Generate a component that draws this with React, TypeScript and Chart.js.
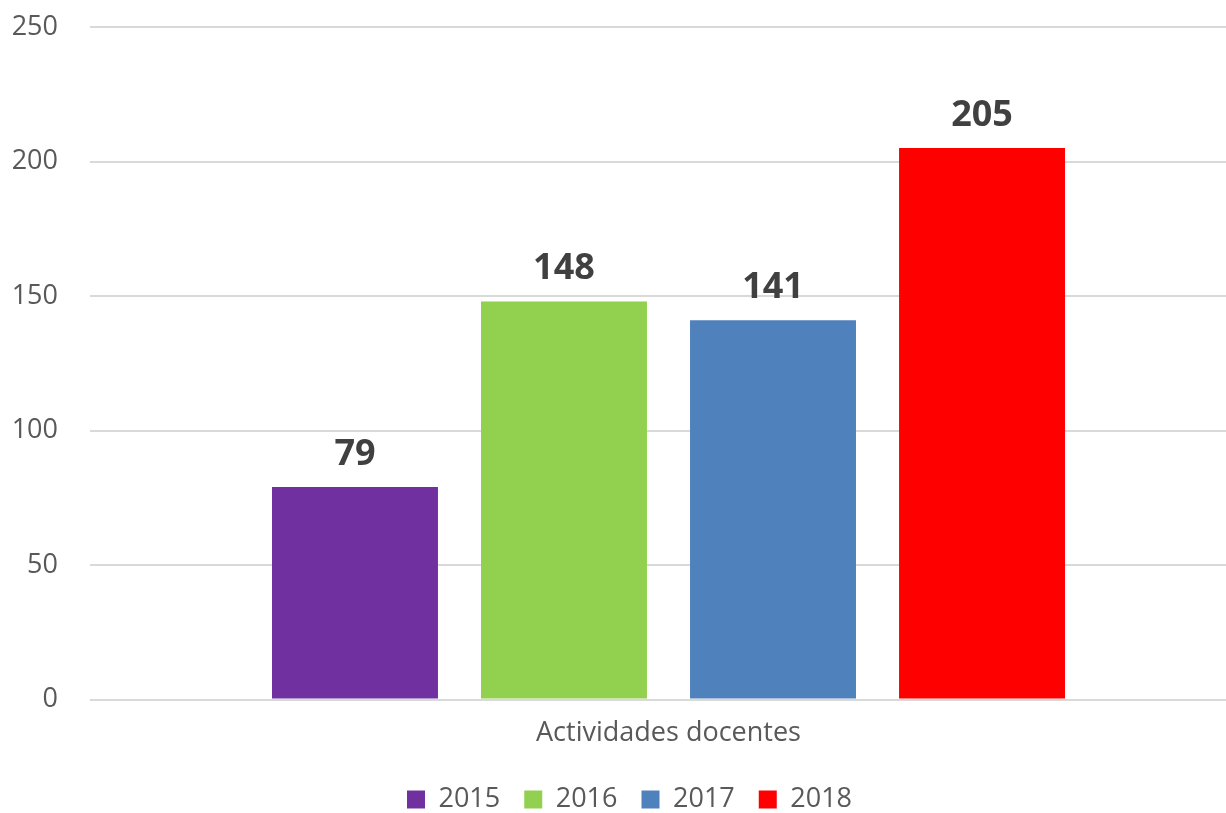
import React, { useEffect, useRef } from "react";
import { Chart, registerables } from "chart.js";

Chart.register(...registerables);

const categories = ["Actividades docentes"];
const seriesLabels = ["2015", "2016", "2017", "2018"];
const seriesValues = [[79], [148], [141], [205]];
const seriesColors = ["#7030A0", "#92D050", "#4F81BD", "#FF0000"];
const yTicks = [0, 50, 100, 150, 200, 250];

const FONT = "'Open Sans', 'Noto Sans', sans-serif";
const TEXT = "#595959";

const dataLabelPlugin = {
  id: "dataLabels",
  afterDatasetsDraw(chart: any) {
    const ctx = chart.ctx;
    ctx.save();
    ctx.font = `bold 36px ${FONT}`;
    ctx.fillStyle = "#404040";
    ctx.textAlign = "center";
    ctx.textBaseline = "alphabetic";
    chart.data.datasets.forEach((ds: any, i: number) => {
      const meta = chart.getDatasetMeta(i);
      meta.data.forEach((bar: any, j: number) => {
        ctx.fillText(String(ds.data[j]), bar.x, bar.y - 22);
      });
    });
    ctx.restore();
  },
};

export default function App() {
  const ref = useRef<HTMLCanvasElement | null>(null);
  useEffect(() => {
    document.body.style.margin = "0";
    const chart = new Chart(ref.current as HTMLCanvasElement, {
      type: "bar",
      data: {
        labels: categories,
        datasets: seriesLabels.map((l, i) => ({
          label: l,
          data: seriesValues[i],
          backgroundColor: seriesColors[i],
          borderWidth: 0,
          categoryPercentage: 0.7226,
          barPercentage: 0.794,
        })),
      },
      options: {
        responsive: false,
        animation: false,
        layout: { padding: { left: 12, top: 27, right: 0, bottom: -10 } },
        plugins: {
          tooltip: { enabled: false },
          legend: {
            position: "bottom",
            labels: {
              boxWidth: 18,
              boxHeight: 18,
              padding: 24,
              color: TEXT,
              font: { family: FONT, size: 27 },
            },
          },
        },
        scales: {
          x: {
            grid: { display: false },
            border: { display: false },
            ticks: { color: TEXT, font: { family: FONT, size: 27 }, padding: 10 },
            afterFit(scale: any) {
              scale.height += 2;
              scale.paddingLeft = 0;
              scale.paddingRight = 0;
            },
          },
          y: {
            min: 0,
            max: 250,
            afterBuildTicks(axis: any) {
              axis.ticks = yTicks.map((v) => ({ value: v }));
            },
            afterFit(scale: any) {
              scale.width = 78;
              scale.paddingTop = 0;
              scale.paddingBottom = 0;
            },
            grid: { color: "#D9D9D9", lineWidth: 2, drawTicks: false },
            border: { display: false },
            ticks: { color: TEXT, font: { family: FONT, size: 27 }, padding: 32 },
          },
        },
      },
      plugins: [dataLabelPlugin],
    } as any);
    return () => chart.destroy();
  }, []);
  return (
    <div style={{ width: 1226, height: 813, overflow: "hidden", position: "relative" }}>
      <canvas ref={ref} width={1247} height={813} style={{ position: "absolute", left: 0, top: 0 }} />
    </div>
  );
}
